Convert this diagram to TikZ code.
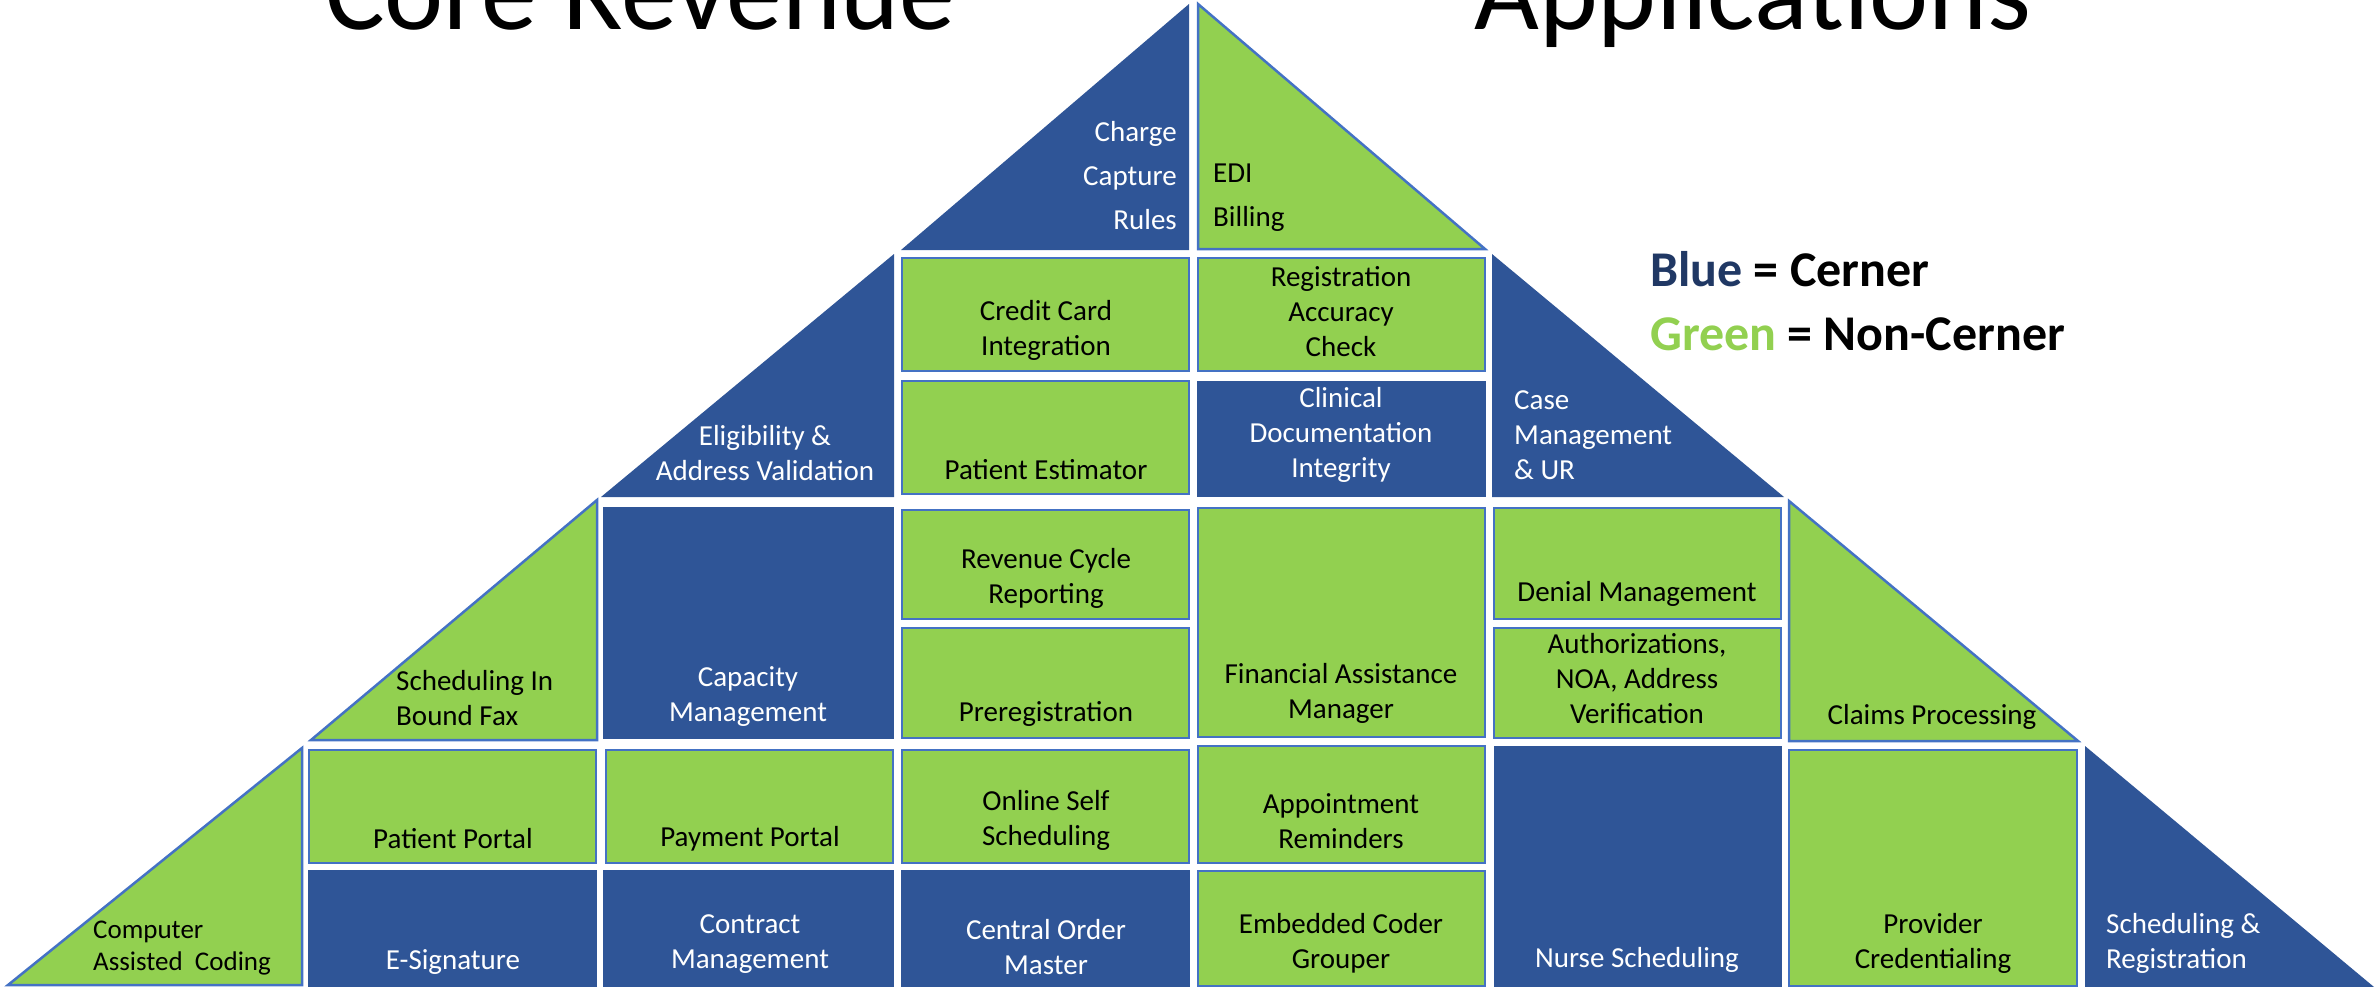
\documentclass[tikz,border=0pt]{standalone}
\usepackage{fontspec}
\setmainfont{Carlito}
\definecolor{cblue}{HTML}{2F5597}
\definecolor{cgreen}{HTML}{92D050}
\definecolor{cedge}{HTML}{4472C4}
\definecolor{cnavy}{HTML}{203864}
\newcommand\mybody{\fontsize{29}{35}\selectfont}
\newcommand\mywide{\fontsize{29}{44}\selectfont}
\newcommand\mysmall{\fontsize{27}{32}\selectfont}
\newcommand\mytitle{\fontsize{112}{134}\selectfont}
\newcommand\mylegend{\bfseries\fontsize{50}{64}\selectfont}
\begin{document}
\begin{tikzpicture}[x=1pt,y=-1pt,
  blu/.style={fill=cblue},
  grn/.style={fill=cgreen,draw=cedge,line width=2.5pt,line join=miter},
  onblue/.style={inner sep=0pt,text=white,font=\mybody,align=center},
  ongreen/.style={inner sep=0pt,text=black,font=\mybody,align=center}]
\useasboundingbox (0,0) rectangle (2376,987);

% ---------- Tier 1 ----------
\fill[blu] (1189,4) -- (1189,250) -- (901,250) -- cycle;
\filldraw[grn] (1198,4) -- (1198,249) -- (1485,249) -- cycle;

% ---------- Tier 2 ----------
\fill[blu] (894,254) -- (894,497) -- (601,497) -- cycle;
\filldraw[grn] (902,258) rectangle (1189,371);
\filldraw[grn] (902,381) rectangle (1189,494);
\filldraw[grn] (1198,258) rectangle (1485,371);
\fill[blu] (1197,381) rectangle (1486,497);
\fill[blu] (1492,254) -- (1492,497) -- (1784,497) -- cycle;

% ---------- Tier 3 ----------
\filldraw[grn] (597,500) -- (597,740) -- (311,740) -- cycle;
\fill[blu] (603,507) rectangle (894,739);
\filldraw[grn] (902,510) rectangle (1189,619);
\filldraw[grn] (902,628) rectangle (1189,738);
\filldraw[grn] (1198,508) rectangle (1485,737);
\filldraw[grn] (1494,508) rectangle (1781,619);
\filldraw[grn] (1494,628) rectangle (1781,738);
\filldraw[grn] (1789,501) -- (1789,741) -- (2078,741) -- cycle;

% ---------- Tier 4 ----------
\filldraw[grn] (302,748) -- (302,985) -- (8,985) -- cycle;
\filldraw[grn] (309,750) rectangle (596,863);
\fill[blu] (308,870) rectangle (597,992);
\filldraw[grn] (606,750) rectangle (893,863);
\fill[blu] (603,870) rectangle (894,992);
\filldraw[grn] (902,750) rectangle (1189,863);
\fill[blu] (901,870) rectangle (1190,992);
\filldraw[grn] (1198,746) rectangle (1485,863);
\filldraw[grn] (1198,871) rectangle (1485,986);
\fill[blu] (1494,746) rectangle (1782,992);
\filldraw[grn] (1789,750) rectangle (2077,986);
\fill[blu] (2085,746) -- (2085,992) -- (2380,992) -- cycle;

% ---------- Titles and legend ----------
\node[inner sep=0pt,anchor=base west,font=\mytitle] (t1) at (325,30) {Core Revenue};
\node[inner sep=0pt,anchor=base west,font=\mytitle] (t2) at (1474,30) {Applications};
\node[inner sep=0pt,anchor=west,font=\mylegend,align=left] (leg) at (1650,301)
  {\textcolor{cnavy}{Blue} = Cerner\\\textcolor{cgreen}{Green} = Non-Cerner};

% ---------- Labels ----------
\node[onblue,font=\mywide,align=right,anchor=east] (ccr) at (1177,176) {Charge\\Capture\\Rules};
\node[ongreen,font=\mywide,align=left,anchor=west] (edi) at (1213,198) {EDI\\Billing};

\node[ongreen] (cci) at (1046,330) {Credit Card\\Integration};
\node[ongreen] (pe) at (1046,470) {Patient Estimator};
\node[onblue] (elig) at (765,453) {Eligibility \&\\Address Validation};
\node[ongreen] (rac) at (1341,312) {Registration\\Accuracy\\Check};
\node[onblue] (cdi) at (1341,435) {Clinical\\Documentation\\Integrity};
\node[onblue,align=left,anchor=west] (cm) at (1514,435) {Case\\Management\\\& UR};

\node[ongreen,align=left,anchor=west] (fax) at (396,698) {Scheduling In\\Bound Fax};
\node[onblue] (cap) at (748,697) {Capacity\\Management};
\node[ongreen] (rcr) at (1046,578) {Revenue Cycle\\Reporting};
\node[ongreen] (prereg) at (1046,714) {Preregistration};
\node[ongreen] (fam) at (1341,693) {Financial Assistance\\Manager};
\node[ongreen] (den) at (1637,594) {Denial Management};
\node[ongreen] (auth) at (1637,679) {Authorizations,\\NOA, Address\\Verification};
\node[ongreen] (claims) at (1932,717) {Claims Processing};

\node[ongreen,font=\mysmall,align=left,anchor=west] (cac) at (93,948) {Computer\\Assisted\ \ Coding};
\node[ongreen] (pp) at (453,839) {Patient Portal};
\node[onblue] (es) at (453,962) {E-Signature};
\node[ongreen] (pay) at (750,839) {Payment Portal};
\node[onblue] (con) at (750,944) {Contract\\Management};
\node[ongreen] (oss) at (1046,820) {Online Self\\Scheduling};
\node[onblue] (com) at (1046,947) {Central Order\\Master};
\node[ongreen] (apr) at (1341,821) {Appointment\\Reminders};
\node[ongreen] (ecg) at (1341,943) {Embedded Coder\\Grouper};
\node[onblue] (ns) at (1637,960) {Nurse Scheduling};
\node[ongreen] (prov) at (1933,943) {Provider\\Credentialing};
\node[onblue,align=left,anchor=west] (sr) at (2106,943) {Scheduling \&\\Registration};
\end{tikzpicture}
\end{document}
